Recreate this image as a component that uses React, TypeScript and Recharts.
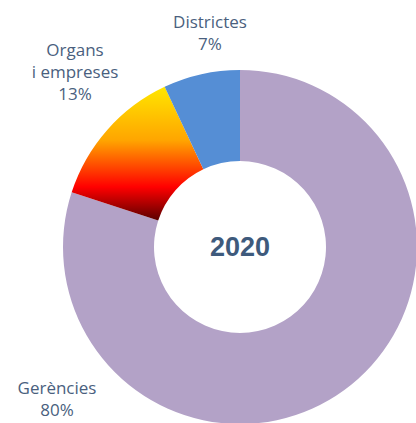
import { PieChart, Pie, Cell } from "recharts";

const categories = ["Gerències", "Organs\ni empreses", "Districtes"];
const shares = [80, 13, 7];
const colors = ["#B3A2C7", "url(#fireGrad)", "#558ED5"];

// where each label's first line sits (label layout, not data)
const labelPos: Record<string, { x: number; y: number }> = {
  "Gerències": { x: 57, y: 388 },
  "Organs\ni empreses": { x: 75, y: 50 },
  "Districtes": { x: 210, y: 22 },
};

const data = categories.map((name, i) => ({ name, value: shares[i] }));

const TEXT = "#4A5F7E";
const FONT = "'Open Sans', sans-serif";

const renderLabel = (props: any) => {
  const pos = labelPos[props.name];
  if (!pos) return null;
  const lines = [...String(props.name).split("\n"), `${props.value}%`];
  return (
    <text x={pos.x} y={pos.y} textAnchor="middle" fill={TEXT} fontSize={17} fontFamily={FONT}>
      {lines.map((l, i) => (
        <tspan key={i} x={pos.x} dy={i === 0 ? 6 : 22}>
          {l}
        </tspan>
      ))}
    </text>
  );
};

export default function App() {
  return (
    <div style={{ position: "absolute", left: 0, top: 0, background: "#fff" }}>
      <PieChart width={416} height={423} margin={{ top: 0, right: 0, bottom: 0, left: 0 }}>
        <defs>
          <linearGradient id="fireGrad" x1="0" y1="0" x2="0" y2="1">
            <stop offset="0%" stopColor="#FFE600" />
            <stop offset="40%" stopColor="#FFA500" />
            <stop offset="75%" stopColor="#FF0000" />
            <stop offset="100%" stopColor="#5A0000" />
          </linearGradient>
        </defs>
        <Pie
          data={data}
          dataKey="value"
          nameKey="name"
          cx={240}
          cy={247}
          outerRadius={177}
          innerRadius={86}
          startAngle={90}
          endAngle={-270}
          stroke="none"
          label={renderLabel}
          labelLine={false}
          isAnimationActive={false}
        >
          {data.map((d, i) => (
            <Cell key={d.name} fill={colors[i]} />
          ))}
        </Pie>
        <text
          x={240}
          y={247}
          textAnchor="middle"
          dominantBaseline="central"
          fill="#3E5A7C"
          fontSize={27}
          fontWeight="bold"
          fontFamily="'Liberation Sans', Arial, sans-serif"
        >
          2020
        </text>
      </PieChart>
    </div>
  );
}
